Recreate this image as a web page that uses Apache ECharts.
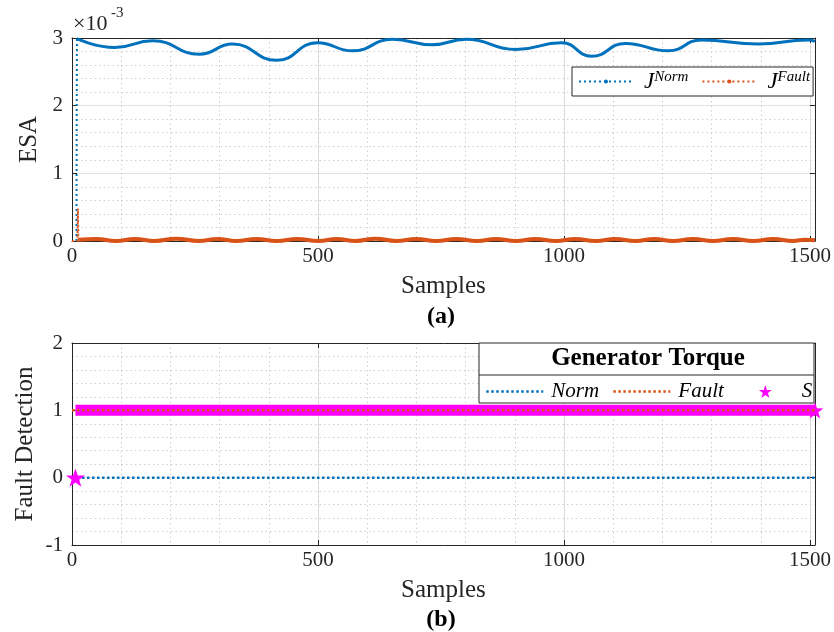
<!DOCTYPE html>
<html><head><meta charset="utf-8">
<script src="https://cdn.jsdelivr.net/npm/echarts@6/dist/echarts.min.js"></script>
<style>html,body{margin:0;padding:0;background:#fff}#c{width:834px;height:632px}</style>
</head><body><div id="c"></div>
<script>
// ===================== DATA =====================
// x axis (Samples)
const xMax = 1510;
const xTickStep = 500;
// (a) ESA, values in units of 1e-3
const normJumpSamples = [9, 10];
const normJumpValues  = [0, 2.99];
const normSamples = [10, 87, 164, 259, 326, 416, 499, 570, 651, 732, 801, 902, 995, 1056, 1125, 1212, 1279, 1395, 1496, 1510];
const normValues  = [2.99, 2.86, 2.96, 2.76, 2.91, 2.67, 2.93, 2.81, 2.98, 2.90, 2.98, 2.83, 2.93, 2.73, 2.92, 2.81, 2.97, 2.91, 2.97, 2.95];
const faultSpikeSamples = [0, 11, 12, 13];
const faultSpikeValues  = [0.0, 0.0, 0.48, 0.02];
const faultSamples = [13, 50, 89, 128, 168, 212, 257, 296, 334, 375, 416, 458, 501, 538, 576, 617, 659, 700, 740, 781, 823, 862, 902, 942, 983, 1023, 1064, 1104, 1145, 1183, 1222, 1262, 1303, 1344, 1385, 1425, 1466, 1490, 1510];
const faultValues  = [0.02, 0.03, 0.0, 0.03, 0.0, 0.035, 0.0, 0.03, 0.0, 0.03, 0.0, 0.03, 0.0, 0.03, 0.0, 0.035, 0.0, 0.03, 0.0, 0.03, 0.0, 0.03, 0.0, 0.03, 0.0, 0.03, 0.0, 0.03, 0.0, 0.03, 0.0, 0.03, 0.0, 0.03, 0.0, 0.03, 0.0, 0.02, 0.01];
// (b) Fault detection
const detNormSamples = [0, 1510];
const detNormValues  = [0, 0];
const detFaultSamples = [0, 1510];
const detFaultValues  = [1, 1];
const sZeroSamples = [7];
const sZeroValues  = [0];
const sOneSamples = [7, 1510];
const sOneValues  = [1, 1];
// ================================================

const F = '"Liberation Serif", "DejaVu Serif", serif';
const AX = '#262626';
const BLUE = '#0072BD', RED = '#D95319', MAG = '#FF00FF';
const STAR = 'path://M0,-10L2.35,-3.24L9.51,-3.09L3.8,1.24L5.88,8.09L0,4L-5.88,8.09L-3.8,1.24L-9.51,-3.09L-2.35,-3.24Z';
const zip = (xs, ys) => xs.map((x, i) => [x, ys[i]]);
const plain = v => String(v);

function xAxes(gi) {
  return [
    { gridIndex: gi, type: 'value', min: 0, max: xMax, interval: xTickStep, position: 'bottom',
      axisLine: { show: true, onZero: false, lineStyle: { color: AX, width: 1 } },
      axisTick: { show: true, inside: true, length: 5, lineStyle: { color: AX } },
      axisLabel: { color: AX, fontSize: 21, fontFamily: F, margin: 5, showMaxLabel: false, formatter: plain },
      splitLine: { show: true, lineStyle: { color: '#e0e0e0', width: 1 } },
      name: 'Samples', nameLocation: 'middle', nameGap: 33, nameMoveOverlap: false,
      nameTextStyle: { fontFamily: F, fontSize: 25, color: AX } },
    { gridIndex: gi, type: 'value', min: 0, max: xMax, interval: xTickStep, position: 'top',
      axisLine: { show: true, onZero: false, lineStyle: { color: AX, width: 1 } },
      axisTick: { show: true, inside: true, length: 5, lineStyle: { color: AX } },
      axisLabel: { show: false }, splitLine: { show: false } },
    { gridIndex: gi, type: 'value', min: 0, max: xMax, interval: 100, position: 'bottom',
      axisLine: { show: false }, axisTick: { show: false }, axisLabel: { show: false },
      splitLine: { show: true, lineStyle: { color: '#cfcfcf', width: 1, type: [1.5, 3] } } }
  ];
}
function yAxes(gi, min, max, name, gap) {
  return [
    { gridIndex: gi, type: 'value', min: min, max: max, interval: 1, position: 'left',
      axisLine: { show: true, onZero: false, lineStyle: { color: AX, width: 1 } },
      axisTick: { show: true, inside: true, length: 5, lineStyle: { color: AX } },
      axisLabel: { color: AX, fontSize: 21, fontFamily: F, margin: 9, formatter: plain },
      splitLine: { show: true, lineStyle: { color: '#e0e0e0', width: 1 } },
      minorTick: { show: false, splitNumber: 5 },
      minorSplitLine: { show: true, lineStyle: { color: '#cfcfcf', width: 1, type: [1.5, 3] } },
      name: name, nameLocation: 'middle', nameGap: gap, nameRotate: 90, nameMoveOverlap: false,
      nameTextStyle: { fontFamily: F, fontSize: 25, color: AX } },
    { gridIndex: gi, type: 'value', min: min, max: max, interval: 1, position: 'right',
      axisLine: { show: true, onZero: false, lineStyle: { color: AX, width: 1 } },
      axisTick: { show: true, inside: true, length: 5, lineStyle: { color: AX } },
      axisLabel: { show: false }, splitLine: { show: false } }
  ];
}

const chart = echarts.init(document.getElementById('c'), null, { renderer: 'canvas' });
const option = {
  animation: false,
  backgroundColor: '#fff',
  textStyle: { fontFamily: F },
  grid: [
    { left: 72, top: 38, width: 744, height: 203 },
    { left: 72, top: 343, width: 743, height: 202 }
  ],
  xAxis: [...xAxes(0), ...xAxes(1)],
  yAxis: [...yAxes(0, 0, 3, 'ESA', 30), ...yAxes(1, -1, 2, 'Fault Detection', 34)],
  legend: [
    { left: 572, top: 67, padding: [3, 3, 3, 6], itemWidth: 54, itemHeight: 5, itemGap: 13,
      borderColor: AX, borderWidth: 1, backgroundColor: '#fff', selectedMode: false, z: 10,
      data: [
        { name: 'JNorm', lineStyle: { type: [2, 3], width: 2 } },
        { name: 'JFault', lineStyle: { type: [2, 3], width: 2 } }
      ],
      formatter: n => n === 'JNorm' ? '{j|J}{s|Norm}' : '{j|J}{s|Fault}',
      textStyle: { rich: {
        j: { fontFamily: F, fontStyle: 'italic', fontSize: 23, lineHeight: 23, color: '#000', padding: [0, 0, 0, 6] },
        s: { fontFamily: F, fontStyle: 'italic', fontSize: 15, lineHeight: 15, verticalAlign: 'top', color: '#000' }
      } } },
    { left: 485, top: 381, padding: 0, itemWidth: 57, itemHeight: 16, itemGap: 13,
      selectedMode: false, z: 10,
      data: [
        { name: 'Norm', itemStyle: { opacity: 0 }, lineStyle: { type: [2.5, 2.5], width: 2.5 } },
        { name: 'Fault', itemStyle: { opacity: 0 }, lineStyle: { type: [2.5, 2.5], width: 2.5 } },
        { name: 'S', lineStyle: { opacity: 0 } }
      ],
      formatter: n => '{t|' + n + '}',
      textStyle: { rich: { t: { fontFamily: F, fontStyle: 'italic', fontSize: 21, color: '#000', padding: [0, 0, 0, 3] } } } }
  ],
  graphic: [
    { type: 'text', left: 73, top: 13, z: 10, style: { text: '×10', font: '22px ' + F, fill: AX } },
    { type: 'text', left: 111, top: 6, z: 10, style: { text: '-3', font: '15px ' + F, fill: AX } },
    { type: 'text', z: 10, x: 441, y: 317, style: { text: '(a)', font: 'bold 24px ' + F, fill: '#000', align: 'center', verticalAlign: 'middle' } },
    { type: 'text', z: 10, x: 441, y: 620, style: { text: '(b)', font: 'bold 24px ' + F, fill: '#000', align: 'center', verticalAlign: 'middle' } },
    { type: 'rect', z: 9, shape: { x: 479, y: 343, width: 335, height: 60 },
      style: { fill: '#fff', stroke: AX, lineWidth: 1 } },
    { type: 'line', z: 9, shape: { x1: 479, y1: 375, x2: 814, y2: 375 }, style: { stroke: AX, lineWidth: 1 } },
    { type: 'text', z: 10, x: 648, y: 359, style: { text: 'Generator Torque', font: 'bold 25px ' + F, fill: '#000', align: 'center', verticalAlign: 'middle' } }
  ],
  series: [
    { name: 'JNormJump', type: 'line', xAxisIndex: 0, yAxisIndex: 0, data: zip(normJumpSamples, normJumpValues),
      showSymbol: false, symbol: 'none', lineStyle: { color: BLUE, width: 2, type: [2, 3] }, itemStyle: { color: BLUE }, z: 2 },
    { name: 'JNorm', type: 'line', xAxisIndex: 0, yAxisIndex: 0, data: zip(normSamples, normValues),
      smooth: 0.5, showSymbol: false, symbol: 'circle', symbolSize: 4,
      lineStyle: { color: BLUE, width: 3 }, itemStyle: { color: BLUE }, z: 2 },
    { name: 'JFaultSpike', type: 'line', xAxisIndex: 0, yAxisIndex: 0, data: zip(faultSpikeSamples, faultSpikeValues),
      showSymbol: false, symbol: 'none', lineStyle: { color: RED, width: 2, type: [2, 2.5] }, itemStyle: { color: RED }, z: 3 },
    { name: 'JFault', type: 'line', xAxisIndex: 0, yAxisIndex: 0, data: zip(faultSamples, faultValues),
      smooth: 0.5, showSymbol: false, symbol: 'circle', symbolSize: 4,
      lineStyle: { color: RED, width: 4 }, itemStyle: { color: RED }, z: 3 },

    { name: 'Norm', type: 'line', xAxisIndex: 3, yAxisIndex: 2, data: zip(detNormSamples, detNormValues),
      showSymbol: false, symbol: 'none', lineStyle: { color: BLUE, width: 2.5, type: [2.5, 2.5] }, itemStyle: { color: BLUE }, z: 2 },
    { name: 'S', type: 'line', xAxisIndex: 3, yAxisIndex: 2, data: zip(sZeroSamples, sZeroValues),
      symbol: STAR, symbolSize: 19, symbolKeepAspect: true, showSymbol: true, showAllSymbol: true,
      lineStyle: { width: 0 }, itemStyle: { color: MAG }, z: 3 },
    { name: 'S', type: 'line', xAxisIndex: 3, yAxisIndex: 2,
      data: zip(sOneSamples, sOneValues).map((p, i, a) => i === a.length - 1 ? { value: p, symbolSize: 17 } : { value: p, symbolSize: 0 }),
      symbol: STAR, symbolKeepAspect: true, showSymbol: true, showAllSymbol: true, clip: false,
      lineStyle: { color: MAG, width: 11, cap: 'butt' }, itemStyle: { color: MAG }, z: 3 },
    { name: 'Fault', type: 'line', xAxisIndex: 3, yAxisIndex: 2, data: zip(detFaultSamples, detFaultValues),
      showSymbol: false, symbol: 'none', lineStyle: { color: RED, width: 2.5, type: [2.5, 2.5] }, itemStyle: { color: RED }, z: 4 }
  ]
};
chart.setOption(option);
</script></body></html>
